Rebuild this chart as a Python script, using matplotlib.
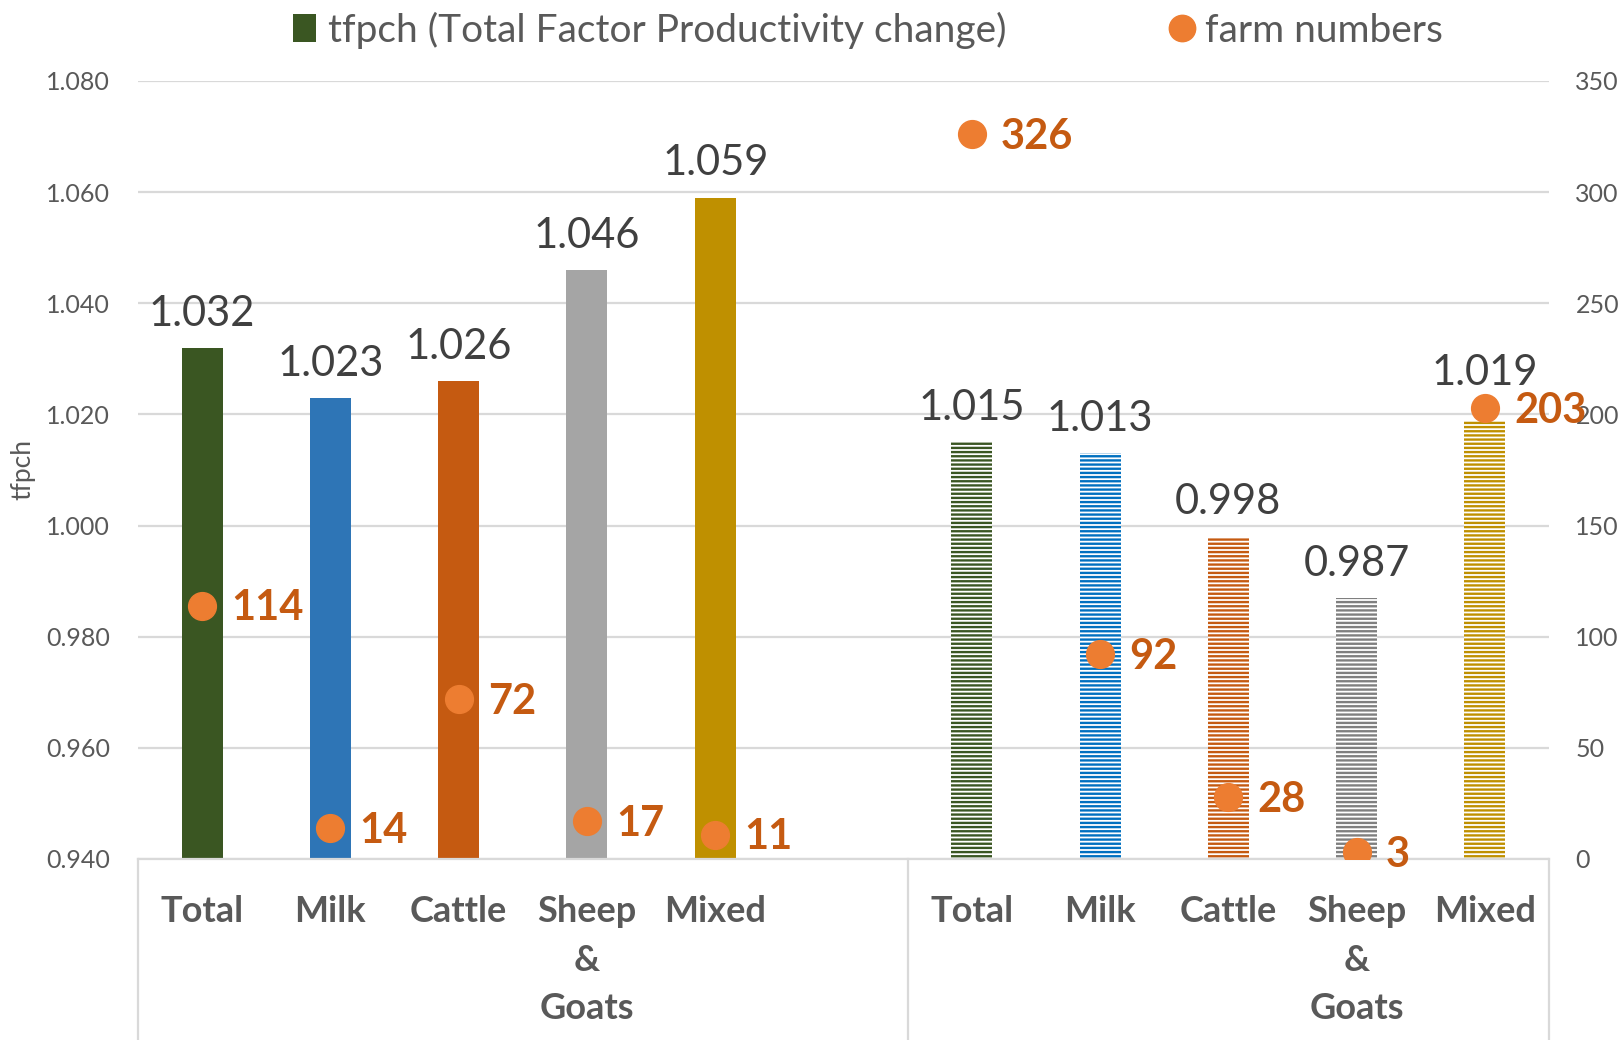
import matplotlib
matplotlib.use("Agg")
import matplotlib.pyplot as plt
from matplotlib.lines import Line2D
from matplotlib.patches import Patch
import matplotlib.transforms as mtransforms

plt.rcParams['font.family'] = ['Lato', 'DejaVu Sans']
plt.rcParams['hatch.linewidth'] = 1.7

categories = ["Total", "Milk", "Cattle", "Sheep\n&\nGoats", "Mixed"]
tfpch_left = [1.032, 1.023, 1.026, 1.046, 1.059]
tfpch_right = [1.015, 1.013, 0.998, 0.987, 1.019]
farms_left = [114, 14, 72, 17, 11]
farms_right = [326, 92, 28, 3, 203]

colors_left = ["#3A5622", "#2E75B6", "#C55A11", "#A5A5A5", "#BF9000"]
colors_right = ["#3A5622", "#0070C0", "#C55A11", "#7F7F7F", "#BF9000"]

W, H, DPI = 16.23, 10.40, 100
fig = plt.figure(figsize=(W, H), dpi=DPI)
ax = fig.add_axes([138/1623, 1-859/1040, (1549-138)/1623, (859-81)/1040])
ax2 = ax.twinx()

pos_left = [0, 1, 2, 3, 4]
pos_right = [6, 7, 8, 9, 10]
bw = 0.32
ymin, ymax = 0.940, 1.080
rmax = 350

ax.bar(pos_left, [v - ymin for v in tfpch_left], bottom=ymin, width=bw,
       color=colors_left, linewidth=0, zorder=2)
for p, v, c in zip(pos_right, tfpch_right, colors_right):
    ax.bar(p, v - ymin, bottom=ymin, width=bw, facecolor="white",
           edgecolor=c, hatch="----", linewidth=0, zorder=2)

all_pos = pos_left + pos_right
all_tf = tfpch_left + tfpch_right
all_farms = farms_left + farms_right
for p, v, f in zip(all_pos, all_tf, all_farms):
    # lift the value label when the farm marker sits right on the bar top
    frac_bar = (v - ymin) / (ymax - ymin)
    frac_dot = f / rmax
    extra = 9 if 0 < frac_dot - frac_bar < 0.05 else 0
    ax.annotate(f"{v:.3f}", (p, v), xytext=(0, 16 + extra), textcoords="offset points",
                ha="center", va="baseline", fontsize=30, color="#404040", zorder=5)

ax.set_xlim(-0.5, 10.5)
ax.set_ylim(ymin, ymax)
ax.set_yticks([0.94 + 0.02 * i for i in range(8)])
ax.set_yticklabels([f"{0.94 + 0.02 * i:.3f}" for i in range(8)])
ax.tick_params(axis="y", length=0, pad=20, labelsize=18, labelcolor="#595959")
ax.set_xticks(all_pos)
ax.set_xticklabels(categories + categories, fontsize=26, fontweight="bold",
                   color="#595959", linespacing=1.57)
ax.tick_params(axis="x", length=0, pad=26)
ax.set_ylabel("tfpch", fontsize=19, color="#595959")
ax.yaxis.set_label_coords(-0.073, 0.5)
ax.grid(axis="y", color="#D9D9D9", linewidth=1.6, zorder=0)
ax.set_axisbelow(True)
for s in ["top", "left", "right"]:
    ax.spines[s].set_visible(False)
ax.spines["bottom"].set_color("#D9D9D9")
ax.spines["bottom"].set_linewidth(1.6)

# separators for multi-level category axis
trans = mtransforms.blended_transform_factory(ax.transData, ax.transAxes)
for xs in [-0.5, 5.5, 10.5]:
    ax.add_line(Line2D([xs, xs], [0, -0.24], transform=trans, color="#D9D9D9",
                       linewidth=1.6, clip_on=False))

ax2.set_ylim(0, rmax)
ax2.set_yticks(range(0, rmax + 1, 50))
ax2.tick_params(axis="y", length=0, pad=19, labelsize=18, labelcolor="#595959")
for s in ["top", "left", "right", "bottom"]:
    ax2.spines[s].set_visible(False)

ax2.plot(all_pos, all_farms, linestyle="none",
         marker="o", markersize=20, color="#ED7D31", zorder=4)
for p, v in zip(all_pos, all_farms):
    ax2.annotate(str(v), (p, v), xytext=(21, -2), textcoords="offset points",
                 ha="left", va="center", fontsize=30, fontweight="bold",
                 color="#C55A11", zorder=6)

handles = [Patch(facecolor="#3A5622", edgecolor="none"),
           Line2D([], [], linestyle="none", marker="o", markersize=19, color="#ED7D31")]
leg = fig.legend(handles, ["tfpch (Total Factor Productivity change)", "farm numbers"],
                 loc="center", bbox_to_anchor=(868/1623, 1-30/1040), ncol=2,
                 frameon=False, fontsize=28, handlelength=0.6, handletextpad=0.3,
                 columnspacing=4.2, labelcolor="#595959")

fig.savefig("out.png", dpi=DPI)
